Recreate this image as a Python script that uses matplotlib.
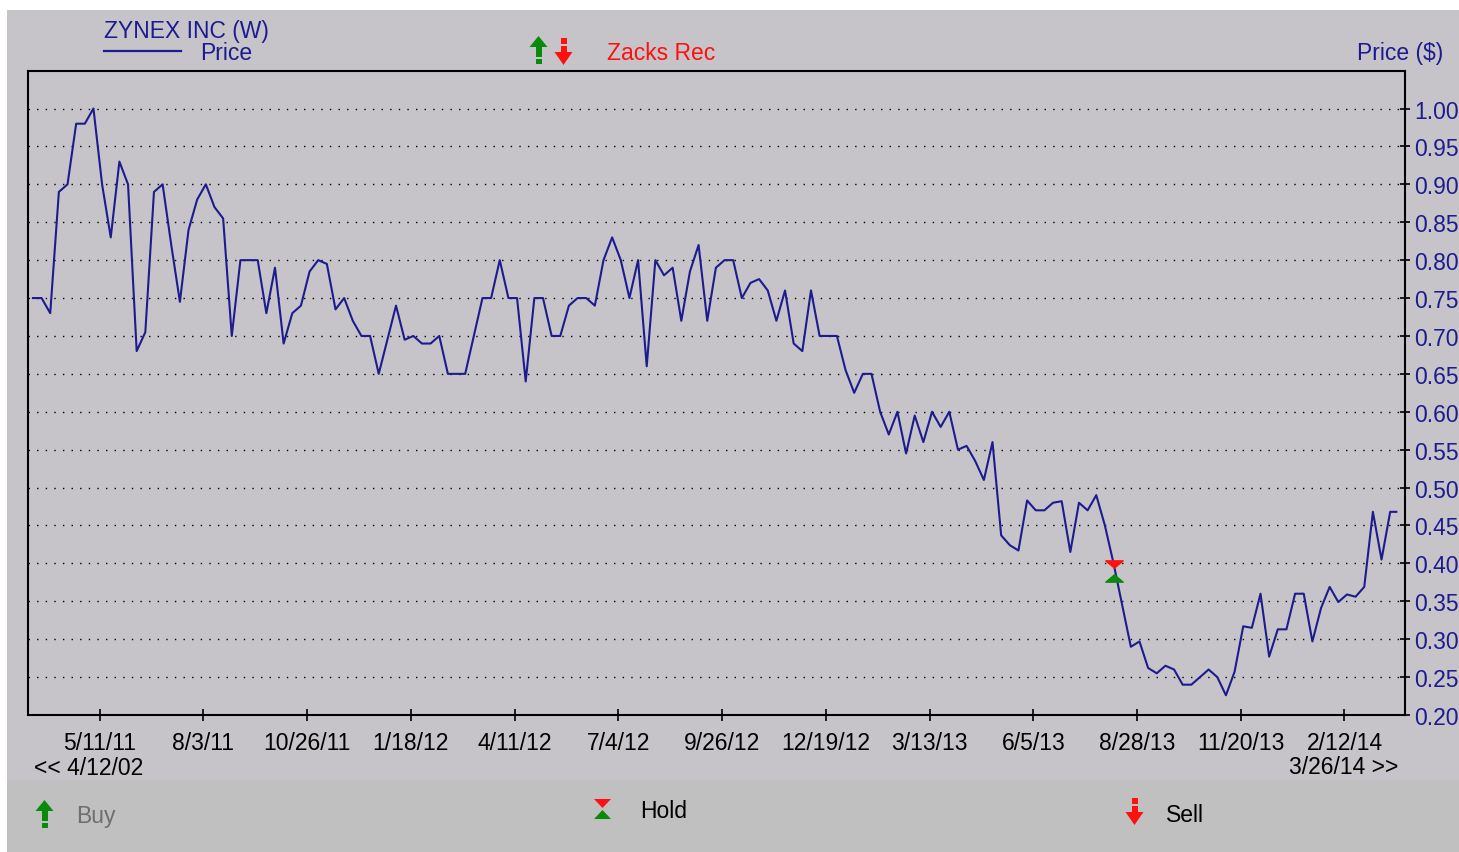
import matplotlib
matplotlib.use("Agg")
import matplotlib.pyplot as plt
import matplotlib.dates as mdates
import matplotlib.patches as mpatches
from matplotlib.path import Path
from matplotlib.transforms import offset_copy
import pandas as pd

plt.rcParams["font.family"] = ["Liberation Sans", "DejaVu Sans"]

# weekly closes (Fridays), plus the last partial week
prices = [
    0.75, 0.75, 0.73, 0.89, 0.90, 0.98, 0.98, 1.00, 0.90, 0.83,
    0.93, 0.90, 0.68, 0.705, 0.89, 0.90, 0.82, 0.745, 0.84, 0.88,
    0.90, 0.87, 0.855, 0.70, 0.80, 0.80, 0.80, 0.73, 0.79, 0.69,
    0.73, 0.74, 0.785, 0.80, 0.795, 0.735, 0.75, 0.72, 0.70, 0.70,
    0.65, 0.695, 0.74, 0.695, 0.70, 0.69, 0.69, 0.70, 0.65, 0.65,
    0.65, 0.70, 0.75, 0.75, 0.80, 0.75, 0.75, 0.64, 0.75, 0.75,
    0.70, 0.70, 0.74, 0.75, 0.75, 0.74, 0.80, 0.83, 0.80, 0.75,
    0.80, 0.66, 0.80, 0.78, 0.79, 0.72, 0.785, 0.82, 0.72, 0.79,
    0.80, 0.80, 0.75, 0.77, 0.775, 0.76, 0.72, 0.76, 0.69, 0.68,
    0.76, 0.70, 0.70, 0.70, 0.655, 0.625, 0.65, 0.65, 0.60, 0.57,
    0.60, 0.545, 0.595, 0.56, 0.60, 0.58, 0.60, 0.55, 0.555, 0.535,
    0.51, 0.56, 0.437, 0.424, 0.417, 0.483, 0.47, 0.47, 0.48, 0.482,
    0.415, 0.48, 0.47, 0.49, 0.45, 0.40, 0.345, 0.29, 0.297, 0.262,
    0.255, 0.265, 0.26, 0.24, 0.24, 0.25, 0.26, 0.25, 0.226, 0.257,
    0.317, 0.315, 0.36, 0.277, 0.313, 0.313, 0.36, 0.36, 0.297, 0.341,
    0.369, 0.349, 0.359, 0.356, 0.369, 0.468, 0.405, 0.468, 0.468,
]
dates = list(pd.date_range("2011-03-18", periods=len(prices) - 1, freq="7D"))
dates.append(pd.Timestamp("2014-03-26"))

hold_date = pd.Timestamp("2013-08-09")
hold_price = 0.40

tick_dates = ["2011-05-11", "2011-08-03", "2011-10-26", "2012-01-18", "2012-04-11",
              "2012-07-04", "2012-09-26", "2012-12-19", "2013-03-13", "2013-06-05",
              "2013-08-28", "2013-11-20", "2014-02-12"]
tick_labels = ["5/11/11", "8/3/11", "10/26/11", "1/18/12", "4/11/12", "7/4/12",
               "9/26/12", "12/19/12", "3/13/13", "6/5/13", "8/28/13", "11/20/13", "2/12/14"]
price_ticks = [0.20, 0.25, 0.30, 0.35, 0.40, 0.45, 0.50, 0.55, 0.60,
               0.65, 0.70, 0.75, 0.80, 0.85, 0.90, 0.95, 1.00]

NAVY = "#1c1c8e"
GRAY = "#c6c4c8"
STRIP = "#c0c0c0"
GREEN = "#0a8a0a"
RED = "#ff1010"
FS = 16.5

W, H = 1459, 853
fig = plt.figure(figsize=(W / 100, H / 100), dpi=100, facecolor="white")

# pixel-space layer for the panel, header and footer
bg = fig.add_axes([0, 0, 1, 1], zorder=0)
bg.set_xlim(0, W)
bg.set_ylim(H, 0)
bg.axis("off")
bg.add_patch(mpatches.Rectangle((7, 11), W, H, color=GRAY, lw=0))
bg.add_patch(mpatches.Rectangle((7, 781), W, H, color=STRIP, lw=0))


def up_arrow(x, top, color):
    bg.add_patch(mpatches.Polygon([(x - 9, top + 11), (x + 9, top + 11), (x, top)],
                                  color=color, lw=0))
    bg.add_patch(mpatches.Rectangle((x - 3, top + 11), 6, 10, color=color, lw=0))
    bg.add_patch(mpatches.Rectangle((x - 3, top + 23), 6, 5, color=color, lw=0))


def down_arrow(x, top, color):
    bg.add_patch(mpatches.Rectangle((x - 3, top), 6, 6, color=color, lw=0))
    bg.add_patch(mpatches.Rectangle((x - 3, top + 8), 6, 6, color=color, lw=0))
    bg.add_patch(mpatches.Polygon([(x - 9, top + 14), (x + 9, top + 14), (x, top + 27)],
                                  color=color, lw=0))


# header
bg.text(104, 31, "ZYNEX INC (W)", color=NAVY, fontsize=FS, va="center")
bg.plot([104, 181], [52, 52], color=NAVY, lw=1.6)
bg.text(200, 53, "Price", color=NAVY, fontsize=FS, va="center")
up_arrow(538.5, 37, GREEN)
down_arrow(563.5, 39, RED)
bg.text(607, 53, "Zacks Rec", color=RED, fontsize=FS, va="center")
bg.text(1443, 53, "Price ($)", color=NAVY, fontsize=FS, va="center", ha="right")

# footer
bg.text(34, 769, "<< 4/12/02", color="black", fontsize=FS, va="center")
bg.text(1398, 768, "3/26/14 >>", color="black", fontsize=FS, va="center", ha="right")
up_arrow(44.5, 801, GREEN)
bg.text(76, 817, "Buy", color="#6e6e6e", fontsize=FS, va="center")
bg.add_patch(mpatches.Polygon([(594, 800), (611, 800), (602.5, 809)], color=RED, lw=0))
bg.add_patch(mpatches.Polygon([(594, 820), (611, 820), (602.5, 811)], color=GREEN, lw=0))
bg.text(640, 812, "Hold", color="black", fontsize=FS, va="center")
down_arrow(1134.5, 799, RED)
bg.text(1166, 816, "Sell", color="black", fontsize=FS, va="center")

# main chart
ax = fig.add_axes([28 / W, (H - 716) / H, (1405 - 28) / W, (716 - 72) / H], zorder=1)
ax.patch.set_alpha(0)
ax.plot(dates, prices, color=NAVY, lw=1.5, zorder=3)

down_tri = Path([(-1, 0.42), (1, 0.42), (0, -0.42), (-1, 0.42)], closed=True)
up_tri = Path([(-1, -0.42), (1, -0.42), (0, 0.42), (-1, -0.42)], closed=True)
ax.plot([hold_date], [hold_price], marker=down_tri, ms=12.5, color=RED, lw=0, zorder=4,
        transform=offset_copy(ax.transData, fig=fig, x=0, y=-1, units="dots"))
ax.plot([hold_date], [hold_price], marker=up_tri, ms=12.5, color=GREEN, lw=0, zorder=4,
        transform=offset_copy(ax.transData, fig=fig, x=0, y=-15, units="dots"))

ax.set_xlim(pd.Timestamp("2011-03-14"), pd.Timestamp("2014-04-02"))
ax.set_ylim(0.20, 1.0495)
ax.set_xticks([mdates.date2num(pd.Timestamp(d)) for d in tick_dates])
ax.set_xticklabels(tick_labels)
ax.yaxis.tick_right()
ax.set_yticks(price_ticks)
ax.set_yticklabels([f"{p:.2f}" for p in price_ticks])
ax.tick_params(axis="x", direction="inout", length=9, width=1.2, pad=7,
               labelsize=FS, labelcolor="black")
ax.tick_params(axis="y", direction="inout", length=7, width=1.2, pad=3,
               labelsize=FS, labelcolor=NAVY)
ax.yaxis.grid(True, color="black", linestyle=(0, (1, 5.2)), linewidth=1.0)
ax.set_axisbelow(True)
for s in ax.spines.values():
    s.set_linewidth(1.5)
    s.set_color("black")

fig.savefig("out.png", dpi=100, facecolor="white")
